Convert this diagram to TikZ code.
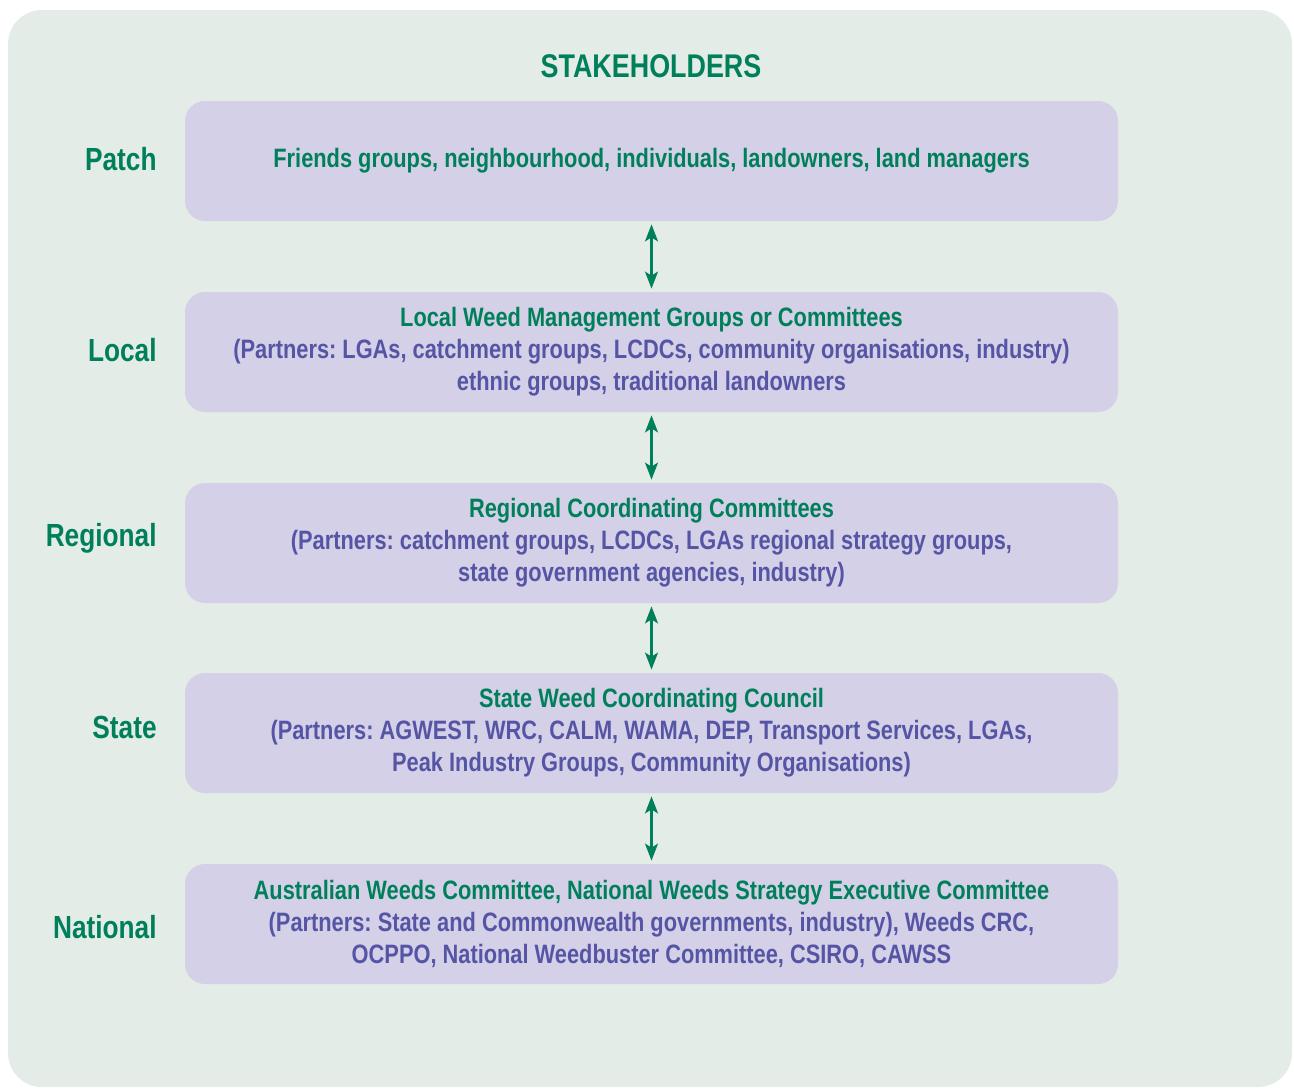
\documentclass[tikz,border=0pt]{standalone}
\usepackage{fontspec}
\setmainfont{Liberation Sans}[FakeStretch=0.82]
\usepackage{tikz}
\usetikzlibrary{arrows.meta}

\definecolor{panelbg}{HTML}{E4ECE8}
\definecolor{boxfill}{HTML}{D3D0E7}
\definecolor{tiergreen}{HTML}{00805A}
\definecolor{partnerblue}{HTML}{5655A5}

\frenchspacing
\begin{document}
\begin{tikzpicture}[x=0.5pt,y=-0.5pt,
  font=\bfseries\fontsize{13.3}{16}\selectfont,
  tierbox/.style={fill=boxfill,rounded corners=10pt,minimum width=466.5pt,
    minimum height=60pt,inner sep=0pt,align=center,text=tiergreen},
  tierlabel/.style={anchor=east,inner sep=0pt,text=tiergreen,font=\bfseries\fontsize{16}{19}\selectfont},
  link/.style={<->,>={Stealth[length=8.5pt,width=6.5pt,inset=2pt]},
    line width=1.1pt,draw=tiergreen,shorten <=1.5pt,shorten >=1.5pt}]
  \useasboundingbox (0,0) rectangle (1294,1088);
  \fill[panelbg,rounded corners=17pt] (8,10) rectangle (1292,1087);

  \node[text=tiergreen,font=\bfseries\fontsize{16.4}{19}\selectfont] (title) at (651,66) {STAKEHOLDERS};

  % the five tiers
  \node[tierbox] (patch) at (651.5,161) {Friends groups, neighbourhood, individuals, landowners, land managers};
  \node[tierbox] (local) at (651.5,352) {Local Weed Management Groups or Committees\\
    \textcolor{partnerblue}{(Partners: LGAs, catchment groups, LCDCs, community organisations, industry)}\\
    \textcolor{partnerblue}{ethnic groups, traditional landowners}};
  \node[tierbox] (regional) at (651.5,543) {Regional Coordinating Committees\\
    \textcolor{partnerblue}{(Partners: catchment groups, LCDCs, LGAs regional strategy groups,}\\
    \textcolor{partnerblue}{state government agencies, industry)}};
  \node[tierbox] (state) at (651.5,733) {State Weed Coordinating Council\\
    \textcolor{partnerblue}{(Partners: AGWEST, WRC, CALM, WAMA, DEP, Transport Services, LGAs,}\\
    \textcolor{partnerblue}{Peak Industry Groups, Community Organisations)}};
  \node[tierbox] (national) at (651.5,924) {Australian Weeds Committee, National Weeds Strategy Executive Committee\\
    \textcolor{partnerblue}{(Partners: State and Commonwealth governments, industry), Weeds CRC,}\\
    \textcolor{partnerblue}{OCPPO, National Weedbuster Committee, CSIRO, CAWSS}};

  \node[tierlabel] (lpatch) at (157,159) {Patch};
  \node[tierlabel] (llocal) at (157,350) {Local};
  \node[tierlabel] (lregional) at (157,538) {Regional};
  \node[tierlabel] (lstate) at (157,727) {State};
  \node[tierlabel] (lnational) at (157,927) {National};

  \draw[link] (patch) -- (local);
  \draw[link] (local) -- (regional);
  \draw[link] (regional) -- (state);
  \draw[link] (state) -- (national);
\end{tikzpicture}
\end{document}
